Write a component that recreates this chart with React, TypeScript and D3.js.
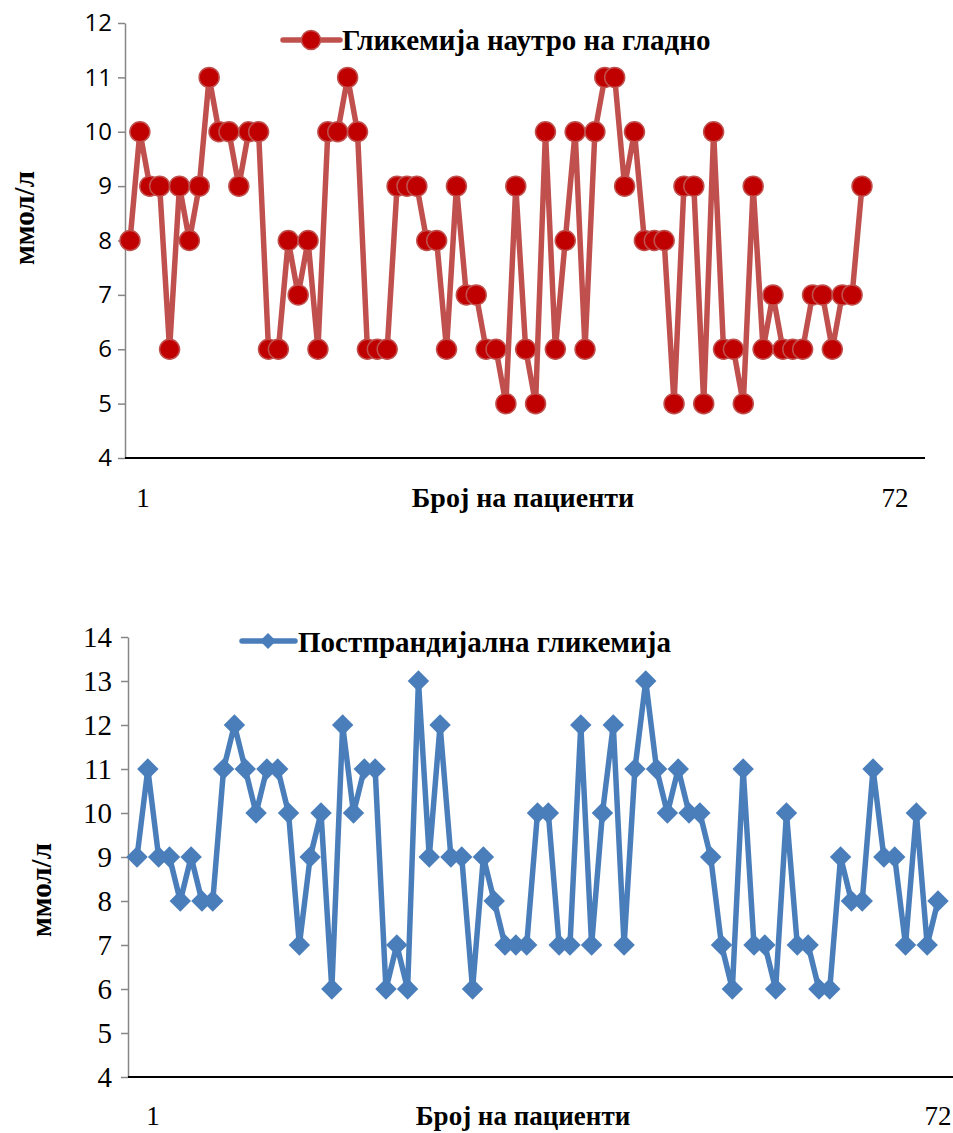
import React, { useEffect, useRef } from "react";
import * as d3 from "d3";

// fasting glycaemia, one value per patient (mmol/l)
const fasting = [
  8, 10, 9, 9, 6, 9, 8, 9, 11, 10, 10, 9, 10, 10, 6, 6, 8, 7, 8, 6, 10, 10, 11, 10, 6,
  6, 6, 9, 9, 9, 8, 8, 6, 9, 7, 7, 6, 6, 5, 9, 6, 5, 10, 6, 8, 10, 6, 10, 11, 11,
  9, 10, 8, 8, 8, 5, 9, 9, 5, 10, 6, 6, 5, 9, 6, 7, 6, 6, 6, 7, 7, 6, 7, 7, 9,
];

// postprandial glycaemia
const postprandial = [
  9, 11, 9, 9, 8, 9, 8, 8, 11, 12, 11, 10, 11, 11, 10, 7, 9, 10, 6, 12, 10, 11, 11, 6, 7,
  6, 13, 9, 12, 9, 9, 6, 9, 8, 7, 7, 7, 10, 10, 7, 7, 12, 7, 10, 12, 7, 11, 13, 11, 10,
  11, 10, 10, 9, 7, 6, 11, 7, 7, 6, 10, 7, 7, 6, 6, 9, 8, 8, 11, 9, 9, 7, 10, 7, 8,
];

const topTicks = [4, 5, 6, 7, 8, 9, 10, 11, 12];
const bottomTicks = [4, 5, 6, 7, 8, 9, 10, 11, 12, 13, 14];
const xLabels = ["1", "72"];
const legendTop = "Гликемија наутро на гладно";
const legendBottom = "Постпрандијална гликемија";
const xTitle = "Број на пациенти";
const yTitle = "ммол/л";

const serif = "'Liberation Serif', 'Times New Roman', serif";
const sans = "'Open Sans', 'Noto Sans', sans-serif";

export default function App() {
  const svgRef = useRef<SVGSVGElement | null>(null);

  useEffect(() => {
    if (!svgRef.current) return;
    const svg = d3.select(svgRef.current);
    svg.selectAll("*").remove();

    // ---------- top chart ----------
    const x1 = d3.scaleLinear().domain([0, fasting.length - 1]).range([130, 862]);
    const y1 = d3.scaleLinear().domain([4, 12]).range([458, 23]);

    const g1 = svg.append("g");
    const ax1 = g1
      .append("g")
      .attr("transform", "translate(125,0)")
      .call(d3.axisLeft(y1).tickValues(topTicks).tickSize(7).tickSizeOuter(0).tickPadding(6));
    ax1.attr("font-size", null).attr("font-family", null);
    ax1.select(".domain").attr("stroke", "#868686").attr("stroke-width", 1.5);
    ax1.selectAll(".tick line").attr("stroke", "#868686").attr("stroke-width", 1.5);
    ax1.selectAll(".tick text")
      .style("font-family", sans)
      .style("font-size", "24px")
      .attr("fill", "#000");

    g1.append("line")
      .attr("x1", 125).attr("x2", 925)
      .attr("y1", y1(4)).attr("y2", y1(4))
      .attr("stroke", "#000").attr("stroke-width", 2);

    const line1 = d3.line<number>().x((_, i) => x1(i)).y((d) => y1(d));
    g1.append("path")
      .datum(fasting)
      .attr("d", line1)
      .attr("fill", "none")
      .attr("stroke", "#C0504D")
      .attr("stroke-width", 5.5)
      .attr("stroke-linejoin", "round");

    g1.selectAll("circle.pt")
      .data(fasting)
      .enter()
      .append("circle")
      .attr("class", "pt")
      .attr("cx", (_, i) => x1(i))
      .attr("cy", (d) => y1(d))
      .attr("r", 10)
      .attr("fill", "#C00000")
      .attr("stroke", "#C0504D")
      .attr("stroke-width", 1.5);

    // legend
    g1.append("line")
      .attr("x1", 283).attr("x2", 340).attr("y1", 40).attr("y2", 40)
      .attr("stroke", "#C0504D").attr("stroke-width", 5.5).attr("stroke-linecap", "round");
    g1.append("circle")
      .attr("cx", 311).attr("cy", 40).attr("r", 9.5)
      .attr("fill", "#C00000").attr("stroke", "#C0504D").attr("stroke-width", 1.5);
    g1.append("text")
      .attr("x", 342).attr("y", 50)
      .attr("font-family", serif).attr("font-weight", "bold").attr("font-size", 29)
      .text(legendTop);

    g1.append("text")
      .attr("x", 143).attr("y", 507).attr("text-anchor", "middle")
      .attr("font-family", serif).attr("font-size", 27).text(xLabels[0]);
    g1.append("text")
      .attr("x", 895).attr("y", 507).attr("text-anchor", "middle")
      .attr("font-family", serif).attr("font-size", 27).text(xLabels[1]);
    g1.append("text")
      .attr("x", 523).attr("y", 507).attr("text-anchor", "middle")
      .attr("font-family", serif).attr("font-weight", "bold").attr("font-size", 28)
      .text(xTitle);
    g1.append("text")
      .attr("transform", "translate(34,218) rotate(-90)")
      .attr("text-anchor", "middle")
      .attr("font-family", serif).attr("font-weight", "bold").attr("font-size", 29)
      .text(yTitle);

    // ---------- bottom chart ----------
    const x2 = d3.scaleLinear().domain([0, postprandial.length - 1]).range([137, 938]);
    const y2 = d3.scaleLinear().domain([4, 14]).range([1077, 637]);

    const g2 = svg.append("g");
    const ax2 = g2
      .append("g")
      .attr("transform", "translate(128,0)")
      .call(d3.axisLeft(y2).tickValues(bottomTicks).tickSize(7).tickSizeOuter(0).tickPadding(9));
    ax2.attr("font-size", null).attr("font-family", null);
    ax2.select(".domain").attr("stroke", "#868686").attr("stroke-width", 1.5);
    ax2.selectAll(".tick line").attr("stroke", "#868686").attr("stroke-width", 1.5);
    ax2.selectAll(".tick text")
      .style("font-family", serif)
      .style("font-size", "29px")
      .attr("fill", "#000");

    g2.append("line")
      .attr("x1", 128).attr("x2", 953)
      .attr("y1", y2(4)).attr("y2", y2(4))
      .attr("stroke", "#000").attr("stroke-width", 2);

    const line2 = d3.line<number>().x((_, i) => x2(i)).y((d) => y2(d));
    g2.append("path")
      .datum(postprandial)
      .attr("d", line2)
      .attr("fill", "none")
      .attr("stroke", "#4A7EBB")
      .attr("stroke-width", 5.5)
      .attr("stroke-linejoin", "round");

    const diamond = d3.symbol().type(d3.symbolSquare).size(230);
    g2.selectAll("path.pt")
      .data(postprandial)
      .enter()
      .append("path")
      .attr("class", "pt")
      .attr("d", diamond)
      .attr("transform", (d, i) => `translate(${x2(i)},${y2(d)}) rotate(45)`)
      .attr("fill", "#4A7EBB");

    g2.append("line")
      .attr("x1", 242).attr("x2", 295).attr("y1", 641).attr("y2", 641)
      .attr("stroke", "#4A7EBB").attr("stroke-width", 5.5).attr("stroke-linecap", "round");
    g2.append("path")
      .attr("d", d3.symbol().type(d3.symbolSquare).size(130))
      .attr("transform", "translate(268,641) rotate(45)")
      .attr("fill", "#4A7EBB");
    g2.append("text")
      .attr("x", 298).attr("y", 652)
      .attr("font-family", serif).attr("font-weight", "bold").attr("font-size", 29)
      .text(legendBottom);

    g2.append("text")
      .attr("x", 153).attr("y", 1125).attr("text-anchor", "middle")
      .attr("font-family", serif).attr("font-size", 27).text(xLabels[0]);
    g2.append("text")
      .attr("x", 938).attr("y", 1125).attr("text-anchor", "middle")
      .attr("font-family", serif).attr("font-size", 27).text(xLabels[1]);
    g2.append("text")
      .attr("x", 523).attr("y", 1125).attr("text-anchor", "middle")
      .attr("font-family", serif).attr("font-weight", "bold").attr("font-size", 27)
      .text(xTitle);
    g2.append("text")
      .attr("transform", "translate(51,890) rotate(-90)")
      .attr("text-anchor", "middle")
      .attr("font-family", serif).attr("font-weight", "bold").attr("font-size", 29)
      .text(yTitle);
  }, []);

  return (
    <svg
      ref={svgRef}
      width={953}
      height={1133}
      style={{ position: "absolute", left: 0, top: 0, background: "#fff", display: "block" }}
    />
  );
}
